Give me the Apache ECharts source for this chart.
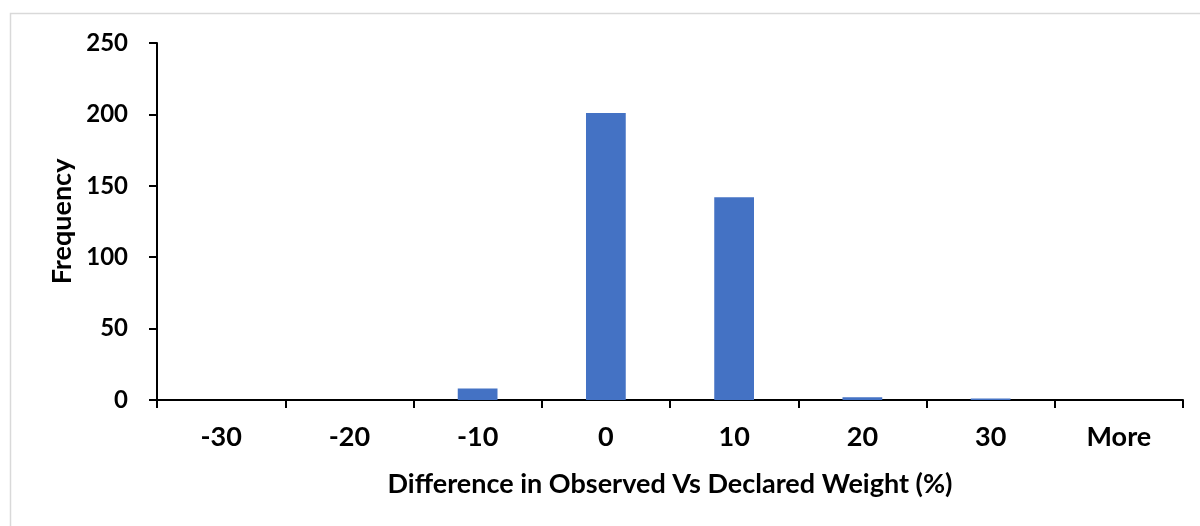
<!DOCTYPE html>
<html>
<head>
<meta charset="utf-8">
<script src="https://cdn.jsdelivr.net/npm/echarts@6/dist/echarts.min.js"></script>
<style>
  html, body { margin: 0; padding: 0; background: #fff; }
  #chart { width: 1200px; height: 526px; }
</style>
</head>
<body>
<div id="chart"></div>
<script>
// Histogram bins (percent difference) and their frequencies
const categories = ['-30', '-20', '-10', '0', '10', '20', '30', 'More'];
const frequency = [0, 0, 8, 201, 142, 2, 1, 0];
const yTicks = { min: 0, max: 250, interval: 50 };

const FONT = 'Lato, "Open Sans", sans-serif';

const chart = echarts.init(document.getElementById('chart'), null, { renderer: 'canvas' });

chart.setOption({
  animation: false,
  backgroundColor: '#ffffff',
  graphic: [{
    type: 'rect',
    left: 8, top: 11,
    shape: { width: 1200, height: 526 },
    style: { fill: 'none', stroke: '#d9d9d9', lineWidth: 1.5 },
    silent: true
  }],
  grid: { left: 157, right: 17, top: 43, bottom: 126, containLabel: false },
  xAxis: {
    type: 'category',
    data: categories,
    boundaryGap: true,
    name: 'Difference in Observed Vs Declared Weight (%)',
    nameLocation: 'middle',
    nameGap: 71,
    nameTextStyle: { fontFamily: FONT, fontWeight: 'bold', fontSize: 27, color: '#000' },
    axisLine: { show: true, lineStyle: { color: '#000', width: 2 } },
    axisTick: { show: true, alignWithLabel: false, length: 8, lineStyle: { color: '#000', width: 2 } },
    axisLabel: { fontFamily: FONT, fontWeight: 'bold', fontSize: 27, color: '#000', margin: 24, interval: 0 },
    splitLine: { show: false }
  },
  yAxis: {
    type: 'value',
    min: yTicks.min, max: yTicks.max, interval: yTicks.interval,
    name: 'Frequency',
    nameLocation: 'middle',
    nameGap: 81,
    nameRotate: 90,
    nameTextStyle: { fontFamily: FONT, fontWeight: 'bold', fontSize: 27, color: '#000' },
    axisLine: { show: true, lineStyle: { color: '#000', width: 2 } },
    axisTick: { show: true, length: 8, lineStyle: { color: '#000', width: 2 } },
    axisLabel: { fontFamily: FONT, fontWeight: 'bold', fontSize: 24, color: '#000', margin: 29 },
    splitLine: { show: false }
  },
  series: [{
    type: 'bar',
    data: frequency,
    barWidth: '31%',
    itemStyle: { color: '#4472c4' }
  }]
});
</script>
</body>
</html>
